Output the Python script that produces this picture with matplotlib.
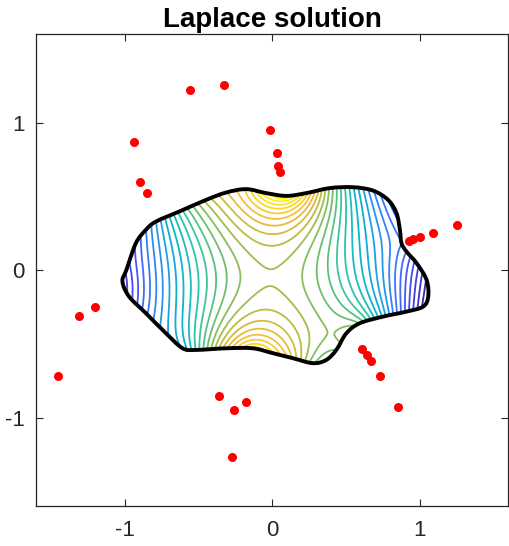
import numpy as np
import matplotlib
matplotlib.use("Agg")
import matplotlib.pyplot as plt
from matplotlib.colors import LinearSegmentedColormap
from matplotlib.path import Path
from matplotlib.patches import PathPatch

plt.rcParams['font.family'] = ['Liberation Sans', 'DejaVu Sans']

# Boundary of the region (closed curve, counter-clockwise from the left tip)
bx = [-1.014, -0.987, -0.923, -0.855, -0.787, -0.629, -0.447, -0.311, -0.175, -0.039,
      0.097, 0.232, 0.391, 0.549, 0.685, 0.787, 0.844, 0.867, 0.878, 0.912,
      0.980, 1.048, 1.059, 1.025, 0.912, 0.753, 0.595, 0.504, 0.436, 0.368,
      0.277, 0.141, 0.005, -0.131, -0.311, -0.515, -0.606, -0.719, -0.855, -0.969]
by = [-0.077, 0.002, 0.183, 0.274, 0.330, 0.398, 0.477, 0.527, 0.550, 0.523,
      0.504, 0.523, 0.557, 0.563, 0.540, 0.477, 0.387, 0.274, 0.183, 0.126,
      0.048, -0.066, -0.179, -0.247, -0.281, -0.315, -0.360, -0.428, -0.541, -0.609,
      -0.631, -0.597, -0.563, -0.530, -0.530, -0.541, -0.530, -0.428, -0.292, -0.179]

# Poles of the rational approximation
px = [-0.554, -0.323, -0.017, 0.031, 0.044, 0.051, -0.935, -0.895, -0.847,
      1.255, 1.092, 1.003, 0.956, 0.929, -1.201, -1.310, -1.452,
      0.609, 0.643, 0.670, 0.731, 0.852, -0.357, -0.255, -0.173, -0.269]
py = [1.224, 1.258, 0.952, 0.797, 0.708, 0.667, 0.871, 0.600, 0.525,
      0.308, 0.253, 0.226, 0.212, 0.199, -0.250, -0.311, -0.718,
      -0.536, -0.576, -0.617, -0.717, -0.928, -0.853, -0.948, -0.894, -1.270]

poly_degree = 24
n_levels = 28
ticks = [-1, 0, 1]
tick_labels = ['-1', '0', '1']


def boundary_data(z):
    """Dirichlet data on the boundary: -log|z|."""
    return -np.log(np.abs(z))


parula = LinearSegmentedColormap.from_list("parula", [
    (0.00, (0.2422, 0.1504, 0.6603)), (0.10, (0.2803, 0.2782, 0.9221)),
    (0.20, (0.2440, 0.4358, 0.9988)), (0.30, (0.1540, 0.5902, 0.9218)),
    (0.40, (0.0297, 0.7082, 0.8163)), (0.50, (0.1938, 0.7798, 0.6330)),
    (0.60, (0.4420, 0.7498, 0.4109)), (0.70, (0.7248, 0.7397, 0.2398)),
    (0.80, (0.9597, 0.7294, 0.2410)), (0.90, (0.9763, 0.8610, 0.1578)),
    (1.00, (0.9769, 0.9839, 0.0805))])

# Smooth closed boundary: cubic Bezier pieces through the boundary points
P = np.column_stack([bx, by])
n = len(P)
verts = [P[0]]
codes = [Path.MOVETO]
for i in range(n):
    p0, p1, p2, p3 = P[i - 1], P[i], P[(i + 1) % n], P[(i + 2) % n]
    verts += [p1 + (p2 - p0) / 6.0, p2 - (p3 - p1) / 6.0, p2]
    codes += [Path.CURVE4] * 3
boundary = Path(np.array(verts), codes)

# Sample points along the smooth boundary
s = np.linspace(0, 1, 60, endpoint=False)
pts = np.concatenate([seg(s) for seg, _ in boundary.iter_bezier()])
zs = pts[:, 0] + 1j * pts[:, 1]

poles = np.array(px) + 1j * np.array(py)


def basis(z):
    """Real parts of polynomial and simple-pole terms (harmonic functions)."""
    cols = []
    for k in range(poly_degree + 1):
        w = z ** k
        cols.append(w.real)
        if k > 0:
            cols.append(w.imag)
    for p in poles:
        w = 1.0 / (z - p)
        cols.append(w.real)
        cols.append(w.imag)
    return np.column_stack(cols)


# Least-squares fit of the harmonic solution to the boundary data
coef = np.linalg.lstsq(basis(zs), boundary_data(zs), rcond=None)[0]

grid = np.linspace(-1.15, 1.15, 500)
X, Y = np.meshgrid(grid, grid)
Z = X + 1j * Y
U = (basis(Z.ravel()) @ coef).reshape(X.shape)
outline = Path(pts)
inside = outline.contains_points(np.column_stack([X.ravel(), Y.ravel()])).reshape(X.shape)
umin, umax = U[inside].min(), U[inside].max()
levels = np.linspace(umin, umax, n_levels + 2)[1:-1]

fig = plt.figure(figsize=(5.10, 5.46), dpi=100)
ax = fig.add_axes([0.0706, 0.0733, 0.9255, 0.8637])

cs = ax.contour(X, Y, U, levels=levels, cmap=parula, linewidths=1.3)
clip = PathPatch(boundary, transform=ax.transData, facecolor='none', edgecolor='none')
ax.add_patch(clip)
cs.set_clip_path(clip)

ax.add_patch(PathPatch(boundary, facecolor='none', edgecolor='black', lw=2.8,
                       joinstyle='round', zorder=4))
ax.plot(px, py, 'o', color='red', markersize=6.5, markeredgewidth=0, zorder=5)

ax.set_xlim(-1.6, 1.6)
ax.set_ylim(-1.6, 1.6)
ax.set_xticks(ticks)
ax.set_yticks(ticks)
ax.set_xticklabels(tick_labels)
ax.set_yticklabels(tick_labels)
ax.tick_params(direction='in', length=5, width=0.8, top=True, right=True,
               labelsize=16, colors='#262626')
ax.tick_params(axis='x', pad=10)
ax.tick_params(axis='y', pad=8)
for sp in ax.spines.values():
    sp.set_color('#262626')
    sp.set_linewidth(0.9)
ax.set_title('Laplace solution', fontsize=20, fontweight='bold', pad=5)

fig.savefig('out.png', dpi=100)
